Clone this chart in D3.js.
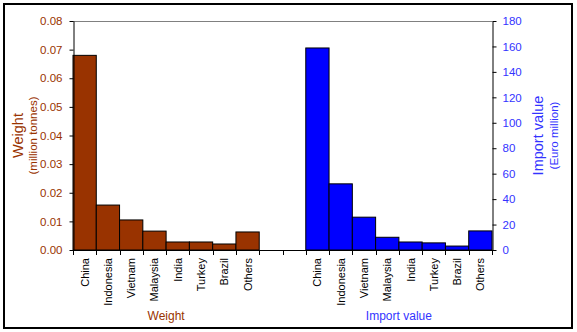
<!DOCTYPE html>
<html><head><meta charset="utf-8">
<script src="https://cdn.jsdelivr.net/npm/d3@7"></script>
<style>body{margin:0;background:#fff}svg{display:block;font-family:"Liberation Sans",Arial,sans-serif}</style>
</head><body><svg id="c" width="577" height="332"></svg>
<script>
const categories = ["China","Indonesia","Vietnam","Malaysia","India","Turkey","Brazil","Others"];
const weightValues = [0.068,0.0157,0.0105,0.0066,0.0028,0.0028,0.0021,0.0063];
const importValues = [158.8,52,25.8,10,6.3,5.6,3.1,15];
const weightTicks = [0,0.01,0.02,0.03,0.04,0.05,0.06,0.07,0.08];
const importTicks = [0,20,40,60,80,100,120,140,160,180];
const groupTitles = ["Weight","Import value"];

const brown = "#993300", blue = "#0000ff", blueText = "#3333ff";
const svg = d3.select("#c");
const L = 73, R = 492, T = 21, B = 250;

const slots = [...categories.map(c=>"W_"+c), "gap1", "gap2", ...categories.map(c=>"I_"+c)];
const x = d3.scaleBand().domain(slots).range([L,R]).paddingInner(0).paddingOuter(0);
const yW = d3.scaleLinear().domain([0,0.08]).range([B,T]);
const yI = d3.scaleLinear().domain([0,180]).range([B,T]);

svg.append("rect").attr("x",4).attr("y",4).attr("width",568).attr("height",324)
  .attr("fill","none").attr("stroke","#000").attr("stroke-width",2);

svg.append("line").attr("x1",L).attr("x2",R).attr("y1",T+0.5).attr("y2",T+0.5).attr("stroke","#808080");

// bars
svg.append("g").selectAll("rect").data(categories).join("rect")
  .attr("x",(d)=>x("W_"+d)).attr("width",x.bandwidth())
  .attr("y",(d,i)=>yW(weightValues[i])).attr("height",(d,i)=>B-yW(weightValues[i]))
  .attr("fill",brown).attr("stroke","#000").attr("stroke-width",1);
svg.append("g").selectAll("rect").data(categories).join("rect")
  .attr("x",(d)=>x("I_"+d)).attr("width",x.bandwidth())
  .attr("y",(d,i)=>yI(importValues[i])).attr("height",(d,i)=>B-yI(importValues[i]))
  .attr("fill",blue).attr("stroke","#000").attr("stroke-width",1);

// left axis
const gl = svg.append("g").attr("transform",`translate(${L+0.5},0)`)
  .call(d3.axisLeft(yW).tickValues(weightTicks).tickFormat(d3.format(".2f")).tickSize(4).tickSizeOuter(0));
gl.select(".domain").attr("stroke","#000");
gl.selectAll("text").attr("fill",brown).attr("font-size","11.5px").attr("x",-11).attr("font-family","Liberation Sans, Arial");
// right axis
const gr = svg.append("g").attr("transform",`translate(${R+0.5},0)`)
  .call(d3.axisRight(yI).tickValues(importTicks).tickSize(4).tickSizeOuter(0));
gr.selectAll("text").attr("fill",blueText).attr("font-size","11.5px").attr("x",10).attr("font-family","Liberation Sans, Arial");

// x axis
svg.append("line").attr("x1",L).attr("x2",R+4).attr("y1",B+0.5).attr("y2",B+0.5).attr("stroke","#000");
const bounds = slots.map(s=>x(s)).concat([x.range()[1]]);
svg.append("g").selectAll("line").data(bounds).join("line")
  .attr("x1",d=>Math.round(d)+0.5).attr("x2",d=>Math.round(d)+0.5).attr("y1",B).attr("y2",B+5).attr("stroke","#000");

// category labels
slots.filter(s=>!s.startsWith("gap")).forEach(s=>{
  const cx = x(s)+x.bandwidth()/2;
  svg.append("text").attr("transform",`translate(${cx+4},${B+8}) rotate(-90)`)
    .attr("text-anchor","end").attr("font-size","11px").attr("fill","#000").text(s.slice(2));
});

// group titles
const wMid = (x("W_China")+x("W_Others")+x.bandwidth())/2;
const iMid = (x("I_China")+x("I_Others")+x.bandwidth())/2;
svg.append("text").attr("x",wMid).attr("y",320).attr("text-anchor","middle").attr("font-size","12px").attr("fill",brown).text(groupTitles[0]);
svg.append("text").attr("x",iMid).attr("y",320).attr("text-anchor","middle").attr("font-size","12px").attr("fill",blueText).text(groupTitles[1]);

// axis titles
const cy = (T+B)/2;
svg.append("text").attr("transform",`translate(23,${cy}) rotate(-90)`).attr("text-anchor","middle")
  .attr("font-size","14.5px").attr("fill",brown).text("Weight");
svg.append("text").attr("transform",`translate(37,${cy}) rotate(-90)`).attr("text-anchor","middle")
  .attr("font-size","11.5px").attr("fill",brown).text("(million tonnes)");
svg.append("text").attr("transform",`translate(543,${cy}) rotate(-90)`).attr("text-anchor","middle")
  .attr("font-size","14.5px").attr("fill",blueText).text("Import value");
svg.append("text").attr("transform",`translate(558,${cy}) rotate(-90)`).attr("text-anchor","middle")
  .attr("font-size","11.5px").attr("fill",blueText).text("(Euro million)");
</script></body></html>
